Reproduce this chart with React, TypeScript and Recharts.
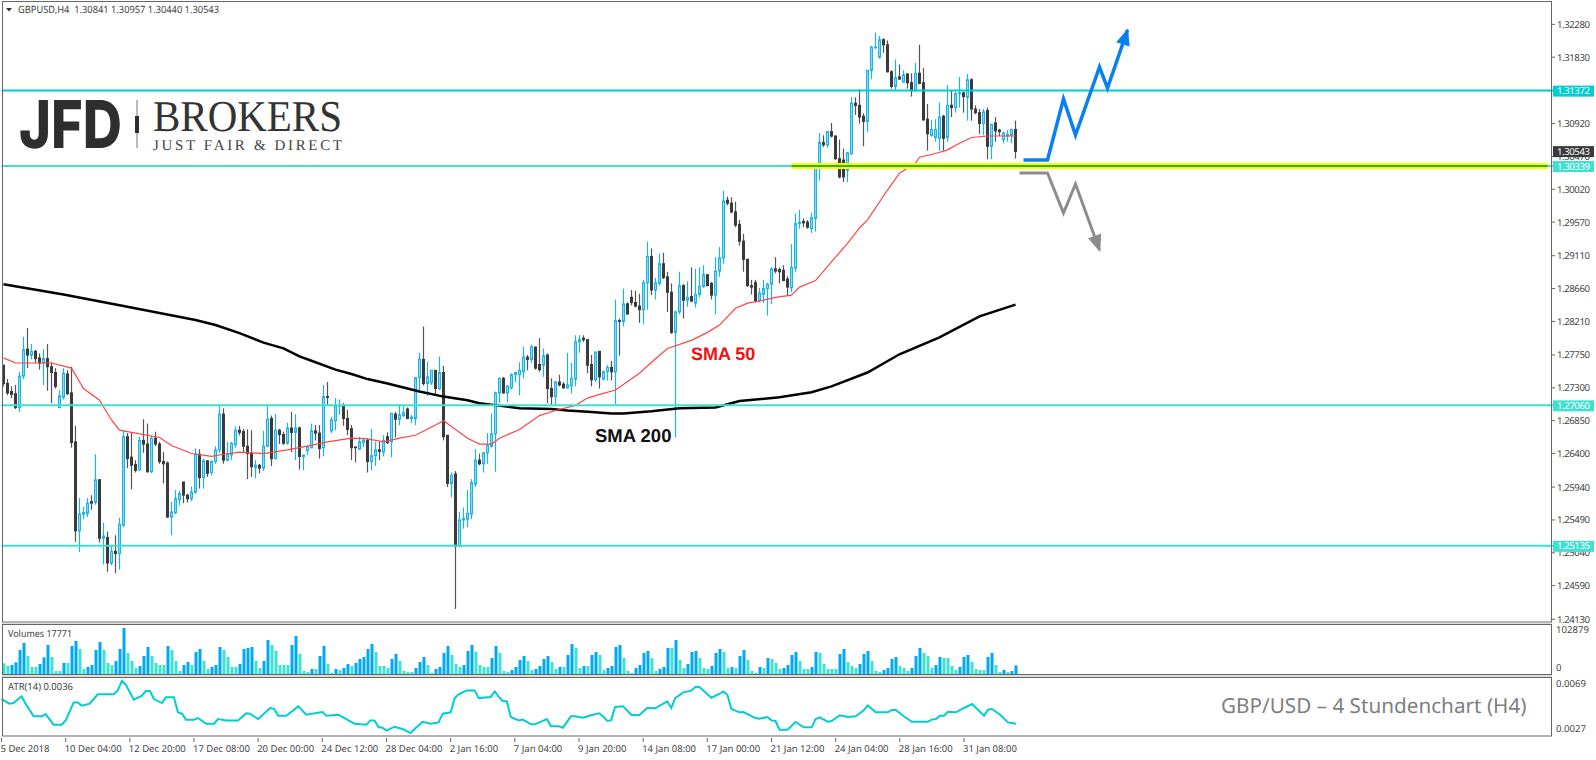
import { Bar, Cell, ComposedChart, Line, ReferenceLine, XAxis, YAxis } from "recharts";

// all candle prices in pips (price x 10000), one entry per H4 bar
const opens = [
  12761,12736,12725,12722,12703,12746,12783,12775,12780,12771,
  12764,12770,12759,12751,12703,12717,12749,12723,12656,12534,
  12557,12558,12574,12573,12604,12524,12525,12490,12506,12503,
  12542,12663,12635,12625,12618,12658,12653,12615,12661,12653,
  12629,12627,12553,12559,12577,12601,12583,12578,12587,12639,
  12607,12630,12614,12629,12645,12694,12631,12638,12652,12672,
  12670,12650,12640,12621,12624,12620,12650,12688,12633,12672,
  12666,12654,12675,12669,12675,12636,12644,12648,12671,12668,
  12648,12718,12671,12685,12705,12706,12688,12674,12649,12646,
  12655,12658,12629,12637,12645,12642,12663,12656,12694,12687,
  12692,12701,12688,12688,12744,12769,12736,12737,12754,12729,
  12751,12665,12599,12612,12513,12549,12550,12557,12598,12631,
  12626,12641,12650,12667,12723,12743,12723,12730,12748,12748,
  12752,12772,12769,12786,12762,12761,12775,12729,12718,12738,
  12735,12730,12733,12742,12793,12798,12796,12762,12741,12780,
  12742,12752,12758,12752,12822,12821,12845,12854,12847,12842,
  12837,12874,12910,12864,12873,12900,12882,12861,12806,12834,
  12870,12850,12855,12846,12858,12869,12885,12873,12857,12890,
  12908,12987,12983,12971,12954,12931,12906,12870,12874,12849,
  12858,12866,12872,12893,12892,12891,12879,12867,12894,12955,
  12958,12957,12948,12962,13035,13066,13063,13081,13075,13044,
  13042,13028,13051,13120,13117,13102,13095,13165,13196,13183,
  13207,13200,13163,13143,13156,13149,13160,13148,13137,13161,
  13148,13098,13076,13073,13072,13102,13073,13117,13114,13133,
  13134,13128,13152,13112,13107,13092,13110,13061,13093,13083,
  13070,13075,13076,13084,
];
const closes = [
  12736,12723,12721,12703,12746,12782,12775,12780,12770,12764,
  12770,12759,12751,12732,12719,12750,12722,12655,12534,12557,
  12559,12572,12572,12604,12524,12527,12490,12506,12503,12543,
  12663,12633,12624,12617,12658,12653,12615,12661,12653,12629,
  12626,12553,12560,12578,12585,12583,12578,12587,12639,12607,
  12630,12613,12629,12645,12694,12631,12639,12654,12672,12669,
  12650,12640,12622,12624,12620,12650,12687,12633,12672,12666,
  12654,12675,12669,12675,12636,12638,12649,12671,12668,12647,
  12718,12717,12686,12705,12706,12688,12673,12648,12648,12656,
  12658,12629,12637,12645,12643,12658,12655,12695,12687,12693,
  12696,12688,12690,12744,12769,12736,12745,12754,12729,12751,
  12663,12599,12610,12513,12549,12551,12558,12600,12631,12626,
  12641,12651,12667,12723,12743,12723,12732,12748,12751,12754,
  12772,12769,12786,12757,12755,12774,12729,12718,12738,12734,
  12730,12734,12743,12793,12796,12796,12761,12741,12779,12745,
  12752,12758,12752,12822,12821,12845,12831,12847,12842,12837,
  12874,12910,12864,12874,12900,12881,12861,12806,12834,12870,
  12850,12854,12849,12858,12869,12885,12870,12857,12890,12908,
  12986,12983,12971,12953,12931,12906,12870,12868,12849,12860,
  12866,12872,12893,12890,12889,12877,12868,12895,12955,12957,
  12956,12950,12963,13035,13066,13063,13081,13075,13044,13019,
  13019,13052,13120,13117,13101,13095,13165,13197,13197,13207,
  13200,13163,13143,13155,13153,13159,13148,13137,13161,13147,
  13097,13078,13084,13084,13101,13072,13117,13114,13133,13134,
  13129,13152,13112,13107,13092,13108,13061,13091,13082,13081,
  13079,13077,13084,13054,
];
const highs = [
  12761,12742,12732,12734,12752,12800,12812,12790,12782,12777,
  12783,12790,12765,12757,12727,12757,12754,12759,12678,12579,
  12567,12579,12583,12639,12605,12545,12533,12515,12528,12552,
  12671,12668,12668,12631,12663,12687,12681,12664,12670,12656,
  12642,12629,12574,12590,12589,12601,12585,12595,12647,12646,
  12633,12631,12631,12650,12706,12702,12656,12656,12677,12678,
  12674,12673,12672,12631,12626,12671,12706,12692,12694,12674,
  12670,12682,12697,12694,12677,12638,12650,12681,12679,12679,
  12734,12738,12690,12716,12714,12709,12700,12679,12649,12663,
  12662,12661,12674,12656,12656,12665,12669,12696,12697,12708,
  12706,12703,12693,12745,12778,12814,12766,12754,12754,12773,
  12760,12665,12614,12616,12560,12566,12590,12605,12646,12640,
  12642,12668,12695,12725,12744,12745,12734,12750,12752,12765,
  12786,12775,12789,12786,12798,12784,12777,12743,12739,12748,
  12738,12778,12764,12802,12802,12802,12796,12775,12780,12780,
  12754,12761,12767,12851,12825,12866,12847,12864,12863,12859,
  12878,12930,12921,12881,12914,12915,12889,12873,12836,12889,
  12872,12876,12895,12893,12895,12898,12886,12875,12909,12923,
  13000,12992,12991,12985,12960,12941,12907,12878,12878,12867,
  12878,12874,12895,12909,12895,12898,12883,12927,12969,12974,
  12962,12960,12970,13038,13079,13076,13081,13093,13076,13070,
  13058,13053,13128,13128,13139,13106,13165,13198,13217,13212,
  13209,13206,13165,13180,13173,13165,13161,13161,13175,13200,
  13168,13119,13097,13098,13121,13104,13145,13138,13136,13156,
  13136,13160,13154,13117,13112,13112,13114,13092,13101,13085,
  13081,13083,13085,13096,
];
const lows = [
  12732,12720,12716,12701,12697,12742,12757,12769,12764,12755,
  12734,12726,12709,12729,12702,12714,12720,12648,12519,12505,
  12550,12553,12563,12570,12518,12488,12478,12487,12476,12481,
  12539,12620,12591,12614,12616,12641,12614,12613,12650,12626,
  12599,12552,12528,12557,12569,12572,12573,12575,12585,12592,
  12592,12608,12610,12626,12641,12626,12629,12631,12648,12665,
  12642,12605,12608,12606,12613,12616,12649,12623,12632,12653,
  12652,12652,12642,12631,12618,12617,12638,12647,12658,12633,
  12636,12706,12668,12672,12693,12678,12665,12631,12628,12645,
  12649,12614,12617,12623,12631,12636,12653,12635,12662,12679,
  12690,12687,12682,12679,12727,12733,12719,12734,12720,12727,
  12658,12594,12580,12427,12512,12537,12539,12550,12594,12624,
  12614,12626,12648,12615,12709,12722,12710,12728,12738,12720,
  12743,12754,12764,12755,12752,12745,12709,12706,12706,12732,
  12729,12729,12722,12732,12778,12793,12750,12732,12738,12729,
  12740,12740,12740,12708,12774,12814,12831,12843,12840,12819,
  12817,12837,12857,12851,12870,12879,12834,12804,12662,12831,
  12825,12841,12847,12840,12854,12867,12869,12851,12831,12882,
  12900,12980,12969,12950,12925,12889,12868,12858,12847,12847,
  12846,12829,12845,12887,12873,12876,12857,12861,12889,12948,
  12950,12948,12942,12944,13014,13060,13059,13073,13042,13017,
  13012,13012,13049,13104,13092,13061,13080,13153,13194,13181,
  13189,13162,13140,13137,13152,13148,13140,13129,13136,13146,
  13096,13055,13074,13067,13055,13055,13067,13101,13107,13114,
  13107,13096,13096,13105,13078,13076,13043,13043,13067,13075,
  13065,13067,13065,13044,
];
const volumes = [
  22000,17200,18500,24000,49400,63800,37000,14400,14400,20600,
  34300,59700,35000,6200,6200,22600,22600,57600,67900,51500,
  10300,14400,18500,49400,65900,49400,22600,18500,26800,51500,
  94700,43200,26800,12300,16500,37000,55600,37000,22600,18500,
  18500,57600,49400,26800,6200,18500,24700,18500,45300,51500,
  26800,10300,14400,18500,55600,49400,35000,14400,14400,20600,
  51500,53500,55600,26800,12300,26800,70000,59700,47300,18500,
  18500,18500,59700,78200,41200,6200,4100,10300,10300,37000,
  57600,20600,2100,10300,8200,12300,20600,16500,22600,30900,
  35000,51500,61700,45300,16500,16500,12300,30900,41200,26800,
  6200,4100,4100,12300,24700,35000,18500,2100,10300,14400,
  43200,57600,39100,20600,14400,18500,47300,59700,45300,18500,
  14400,14400,32900,57600,43200,6200,4100,8200,14400,28800,
  37000,26800,8200,10300,16500,30900,37000,24700,10300,14400,
  14400,39100,61700,53500,12300,16500,16500,39100,45300,39100,
  8200,12300,16500,55600,59700,32900,6200,2100,12300,18500,
  43200,47300,32900,6200,10300,14400,53500,53500,70000,28800,
  12300,20600,45300,47300,32900,12300,10300,16500,43200,51500,
  45300,12300,14400,12300,37000,49400,28800,6200,2100,14400,
  12300,32900,30900,22600,10300,12300,18500,39100,45300,26800,
  10300,10300,14400,45300,43200,20600,10300,10300,10300,41200,
  51500,24700,16500,12300,20600,41200,47300,26800,6200,4100,
  8200,12300,30900,35000,16500,12300,6200,12300,37000,53500,
  43200,37000,12300,18500,35000,32900,32900,16500,8200,14400,
  35000,39100,24700,10300,8200,8200,35000,43200,18500,4100,
  8200,4100,6200,17771,
];

// moving averages and ATR read at the bars where their direction changes
const sma50Bars = [0,3,5,9,12,17,20,24,27,29,32,39,42,47,52,55,59,65,71,74,81,87,91,95,99,103,108,110,112,116,119,122,124,129,134,138,143,146,149,153,159,162,166,172,176,179,183,186,189,193,197,199,203,208,211,214,216,221,224,228,229,233,236,239,242,246,249,253];
const sma50Values = [12771,12764,12764,12764,12764,12757,12729,12713,12686,12672,12669,12662,12651,12640,12636,12639,12642,12640,12645,12648,12656,12661,12660,12656,12661,12665,12679,12685,12677,12661,12653,12653,12661,12673,12692,12699,12706,12716,12721,12727,12750,12765,12784,12795,12806,12816,12839,12846,12849,12854,12857,12868,12877,12909,12928,12949,12960,13001,13024,13038,13046,13051,13056,13065,13073,13075,13075,13075];
const sma200Bars = [0,15,30,48,53,59,65,70,74,78,83,87,91,96,101,104,110,116,119,122,129,137,141,147,152,155,162,169,178,184,194,202,207,216,224,234,244,253];
const sma200Values = [12872,12858,12842,12823,12816,12805,12792,12784,12773,12765,12755,12749,12742,12736,12729,12725,12718,12713,12709,12707,12702,12701,12699,12697,12695,12695,12698,12702,12703,12712,12717,12724,12732,12751,12776,12799,12828,12844];
const atrBars = [0,2,3,5,6,8,10,11,13,15,16,18,19,20,22,24,28,29,30,31,33,35,36,37,38,40,41,43,44,45,46,48,49,51,53,54,56,59,61,62,64,67,68,69,71,74,76,80,81,84,88,91,92,93,94,95,96,98,100,102,103,105,107,109,110,112,113,114,116,118,119,122,123,124,125,126,127,129,130,132,133,136,137,139,140,142,143,145,147,149,150,151,152,153,155,157,159,161,163,166,167,168,170,172,173,174,177,179,180,181,182,184,185,188,189,191,192,193,194,196,198,200,202,203,204,206,207,209,211,213,215,216,218,221,222,223,225,227,231,232,233,234,235,236,238,240,242,245,246,247,249,251,253];
const atrValues = [544,507,512,566,507,405,405,423,337,337,372,517,517,491,507,582,582,614,690,660,539,571,609,609,544,512,558,558,437,426,378,378,391,345,345,383,372,372,429,426,383,472,464,410,410,485,418,439,410,418,345,337,372,372,318,313,289,321,302,270,302,361,345,356,426,437,552,582,614,614,552,561,606,561,526,526,399,372,378,340,340,383,324,324,313,405,405,394,413,429,405,370,372,480,485,418,413,472,469,526,472,552,598,612,641,641,555,585,606,579,464,437,439,391,386,399,372,367,297,297,359,316,316,383,396,361,367,413,399,405,453,493,437,437,456,456,405,361,361,380,383,410,410,442,437,472,504,410,458,464,418,356,345];

// drawn projections after the last bar
const upArrowBars = [255,261,265,268,274,276,281];
const upArrowValues = [1.30421,1.30421,1.31257,1.30764,1.31695,1.31407,1.32202];
const downArrowBars = [254,261,265,268,274];
const downArrowValues = [1.30243,1.30243,1.29695,1.30092,1.29188];

const priceTicks = [1.3228,1.3183,1.3092,1.3047,1.3002,1.2957,1.2911,1.2866,1.2821,1.2775,1.273,1.2685,1.264,1.2594,1.2549,1.2504,1.2459,1.2413];
const levels = [
  { value: 1.31372, color: "#00ced1" },
  { value: 1.27060, color: "#40e0d0" },
  { value: 1.25135, color: "#40e0d0" },
  { value: 1.30339, color: "#40e0d0" },
];
const lastPrice = 1.30543;
const supportBand = 1.30339;
const timeTickBars = [0,16,32,48,64,80,96,112,128,144,160,176,192,208,224,240];
const timeTickLabels = ["5 Dec 2018","10 Dec 04:00","12 Dec 20:00","17 Dec 08:00","20 Dec 00:00","24 Dec 12:00","28 Dec 04:00","2 Jan 16:00","7 Jan 04:00","9 Jan 20:00","14 Jan 08:00","17 Jan 00:00","21 Jan 12:00","24 Jan 04:00","28 Jan 16:00","31 Jan 08:00"];

const ROWS = 387;
const WIDTH = 1596;
const MARGIN = { top: 0, right: 0, bottom: 0, left: 1.5 };
const AXIS_W = WIDTH - 1.5 - ROWS * 4;
const AXIS_X = 1552;
const FONT = "'Noto Sans', sans-serif";
const TEXT = "#444";
const BULL = "#1cb4e8";
const BULL_FILL = "#86daf2";
const BEAR = "#3a3a3a";
const BEAR_WICK = "#555";

const rows: any[] = Array.from({ length: ROWS }, (_, bar) => {
  const row: any = { bar };
  if (bar < opens.length) {
    row.open = opens[bar] / 10000;
    row.close = closes[bar] / 10000;
    row.high = highs[bar] / 10000;
    row.low = lows[bar] / 10000;
    row.volume = volumes[bar];
    row.up = bar > 0 && volumes[bar] > volumes[bar - 1];
  }
  return row;
});
sma50Bars.forEach((b, i) => (rows[b].sma50 = sma50Values[i] / 10000));
sma200Bars.forEach((b, i) => (rows[b].sma200 = sma200Values[i] / 10000));
atrBars.forEach((b, i) => (rows[b].atr = atrValues[i] / 100000));
upArrowBars.forEach((b, i) => (rows[b].upArrow = upArrowValues[i]));
downArrowBars.forEach((b, i) => (rows[b].downArrow = downArrowValues[i]));

const Candle = (props: any) => {
  const { x, y, width, height, payload } = props;
  if (payload.high == null) return null;
  const up = payload.close >= payload.open;
  const cx = Math.floor(x + width / 2) + 0.5;
  const perPrice = height / (payload.high - payload.low);
  const top = y + (payload.high - Math.max(payload.open, payload.close)) * perPrice;
  const bottom = y + (payload.high - Math.min(payload.open, payload.close)) * perPrice;
  return (
    <g>
      <line x1={cx} x2={cx} y1={y} y2={y + height} stroke={up ? BULL : BEAR_WICK} strokeWidth={1.2} />
      <rect
        x={cx - 1}
        y={top}
        width={2}
        height={Math.max(bottom - top, 0.5)}
        fill={up ? BULL_FILL : BEAR}
        stroke={up ? BULL : BEAR}
        strokeWidth={1}
      />
    </g>
  );
};

const PriceTick = (props: any) => {
  const { y, payload } = props;
  const value = payload.value;
  const level = levels.find((l) => l.value === value);
  const isLast = value === lastPrice;
  if (level || isLast) {
    const color = isLast ? "#3a3a3a" : level!.color;
    return (
      <g>
        {level && <line x1={AXIS_X - 4} x2={AXIS_X + 2} y1={y} y2={y} stroke={color} strokeWidth={2} />}
        <rect x={AXIS_X + 1} y={y - 5} width={41} height={11} fill={color} />
        <text x={AXIS_X + 5} y={y + 3.5} fontSize={9.6} fontFamily={FONT} fill="#fff" textLength={33}>{value.toFixed(5)}</text>
      </g>
    );
  }
  return (
    <g>
      <line x1={AXIS_X} x2={AXIS_X + 3} y1={y} y2={y} stroke="#666" />
      <text x={AXIS_X + 5} y={y + 3.5} fontSize={9.6} fontFamily={FONT} fill={TEXT} textLength={33}>{value.toFixed(5)}</text>
    </g>
  );
};

const PlainTick = (props: any) => {
  const { y, payload } = props;
  const isTop = payload.value > 1 ? payload.value > 50000 : payload.value > 0.005;
  const isVolume = payload.value === 0 || payload.value > 1;
  const shift = isVolume ? (isTop ? 9 : -3) : isTop ? 6 : -1;
  return (
    <text x={AXIS_X + 4} y={y + shift} fontSize={9.6} fontFamily={FONT} fill={TEXT}>
      {isVolume ? payload.value : payload.value.toFixed(4)}
    </text>
  );
};

const TimeTick = (props: any) => {
  const { x, y, index } = props;
  return (
    <g>
      <line x1={x} x2={x} y1={y - 6} y2={y - 2} stroke="#666" />
      <text x={x - 1} y={y + 7.5} fontSize={9.5} fontFamily={FONT} fill={TEXT}>{timeTickLabels[index]}</text>
    </g>
  );
};

const arrowDot = (lastBar: number, color: string, angle: number) => (props: any) => {
  const { cx, cy, payload, index } = props;
  if (payload.bar !== lastBar) return <g key={index} />;
  return (
    <polygon
      key={index}
      points="0,-2 -7,15 7,15"
      fill={color}
      transform={`translate(${cx} ${cy}) rotate(${angle})`}
    />
  );
};

export default function App() {
  return (
    <div style={{ position: "absolute", left: 0, top: 0, width: WIDTH, height: 760, background: "#fff", overflow: "hidden", textRendering: "geometricPrecision" }}>
      <div style={{ position: "absolute", left: 0, top: 0 }}>
        <ComposedChart width={WIDTH} height={630} data={rows} margin={{ ...MARGIN, top: 2, bottom: 8 }} barCategoryGap={0}>
          <XAxis dataKey="bar" hide />
          <YAxis
            orientation="right"
            width={AXIS_W}
            domain={[1.24092, 1.32586]}
            allowDataOverflow
            ticks={[...priceTicks, lastPrice, ...levels.map((l) => l.value)]}
            interval={0}
            axisLine={false}
            tickLine={false}
            tick={<PriceTick />}
          />
          <Bar
            dataKey={(d: any) => (d.high == null ? null : [d.low, d.high])}
            shape={<Candle />}
            isAnimationActive={false}
          />
          <Line dataKey="sma200" stroke="#000" strokeWidth={2.5} dot={false} connectNulls isAnimationActive={false} />
          <Line dataKey="sma50" stroke="#f44" strokeWidth={1.2} dot={false} connectNulls isAnimationActive={false} />
          {levels.map((l) => (
            <ReferenceLine key={l.value} y={l.value} stroke={l.color} strokeWidth={2} />
          ))}
          <ReferenceLine
            segment={[{ x: 197, y: supportBand }, { x: 386, y: supportBand }]}
            stroke="#ffff00"
            strokeWidth={6}
          />
          <ReferenceLine
            segment={[{ x: 197, y: supportBand }, { x: 386, y: supportBand }]}
            stroke="#22b800"
            strokeWidth={2}
          />
          <Line
            dataKey="upArrow"
            stroke="#0a80f0"
            strokeWidth={3.5}
            strokeLinejoin="miter"
            connectNulls
            isAnimationActive={false}
            dot={arrowDot(281, "#0a80f0", 18) as any}
          />
          <Line
            dataKey="downArrow"
            stroke="#8c8c8c"
            strokeWidth={3}
            connectNulls
            isAnimationActive={false}
            dot={arrowDot(274, "#8c8c8c", 161) as any}
          />
        </ComposedChart>
      </div>

      <div style={{ position: "absolute", left: 0, top: 624 }}>
        <ComposedChart width={WIDTH} height={50} data={rows} margin={MARGIN}>
          <XAxis dataKey="bar" hide />
          <YAxis
            orientation="right"
            width={AXIS_W}
            domain={[0, 102879]}
            ticks={[102879, 0]}
            interval={0}
            axisLine={false}
            tickLine={false}
            tick={<PlainTick />}
          />
          <Bar dataKey="volume" barSize={3} isAnimationActive={false}>
            {rows.map((r) => (
              <Cell key={r.bar} fill={r.up ? "#00a8f5" : "#40e0d0"} />
            ))}
          </Bar>
        </ComposedChart>
      </div>

      <div style={{ position: "absolute", left: 0, top: 677 }}>
        <ComposedChart width={WIDTH} height={83} data={rows} margin={MARGIN}>
          <XAxis
            dataKey="bar"
            ticks={timeTickBars}
            interval={0}
            height={24}
            axisLine={false}
            tickLine={false}
            tick={<TimeTick />}
          />
          <YAxis
            orientation="right"
            width={AXIS_W}
            domain={[0.00246, 0.00722]}
            ticks={[0.0069, 0.0027]}
            interval={0}
            axisLine={false}
            tickLine={false}
            tick={<PlainTick />}
          />
          <Line dataKey="atr" stroke="#00ced1" strokeWidth={2} dot={false} connectNulls isAnimationActive={false} />
        </ComposedChart>
      </div>

      <svg width={WIDTH} height={760} style={{ position: "absolute", left: 0, top: 0, pointerEvents: "none" }}>
        <rect x={2.5} y={1.5} width={1549} height={620.5} fill="none" stroke="#666" />
        <rect x={2.5} y={624.5} width={1549} height={50} fill="none" stroke="#666" />
        <rect x={2.5} y={677.5} width={1549} height={58.5} fill="none" stroke="#666" />
        <line x1={2} x2={1552} y1={623} y2={623} stroke="#bbb" />
        <line x1={2} x2={1552} y1={676} y2={676} stroke="#bbb" />

        <polygon points="6,8 12,8 9,11.5" fill="#333" />
        <text x={18} y={13} fontSize={10} fontFamily={FONT} fill={TEXT} xmlSpace="preserve" textLength={201} lengthAdjust="spacingAndGlyphs">
          GBPUSD,H4  1.30841 1.30957 1.30440 1.30543
        </text>
        <text x={8} y={637} fontSize={9.8} fontFamily={FONT} fill={TEXT} textLength={64} lengthAdjust="spacingAndGlyphs">Volumes 17771</text>
        <text x={8} y={690} fontSize={9.8} fontFamily={FONT} fill={TEXT} textLength={65} lengthAdjust="spacingAndGlyphs">ATR(14) 0.0036</text>

        <text x={19} y={148} fontSize={66} fontWeight={800} fontFamily="Inter, 'Liberation Sans', sans-serif" fill="#2e2e2e" textLength={103} lengthAdjust="spacingAndGlyphs">JFD</text>
        <line x1={137} x2={137} y1={100} y2={148} stroke="#777" />
        <rect x={135} y={116} width={4} height={17} fill="#2e2e2e" />
        <text x={153} y={131} fontSize={44} fontFamily="'Liberation Serif', serif" fill="#333" textLength={189} lengthAdjust="spacingAndGlyphs">BROKERS</text>
        <text x={153} y={150} fontSize={15} fontFamily="'Liberation Serif', serif" fill="#444" textLength={189}>JUST FAIR &amp; DIRECT</text>

        <text x={691} y={360} fontSize={18} fontWeight={700} fontFamily="'Liberation Sans', sans-serif" fill="#f01010">SMA 50</text>
        <text x={595} y={442} fontSize={18.5} fontWeight={700} fontFamily="'Liberation Sans', sans-serif" fill="#111">SMA 200</text>
        <text x={1221} y={713} fontSize={20.7} fontFamily={FONT} fill="#7f7f7f">GBP/USD – 4 Stundenchart (H4)</text>
      </svg>
    </div>
  );
}
